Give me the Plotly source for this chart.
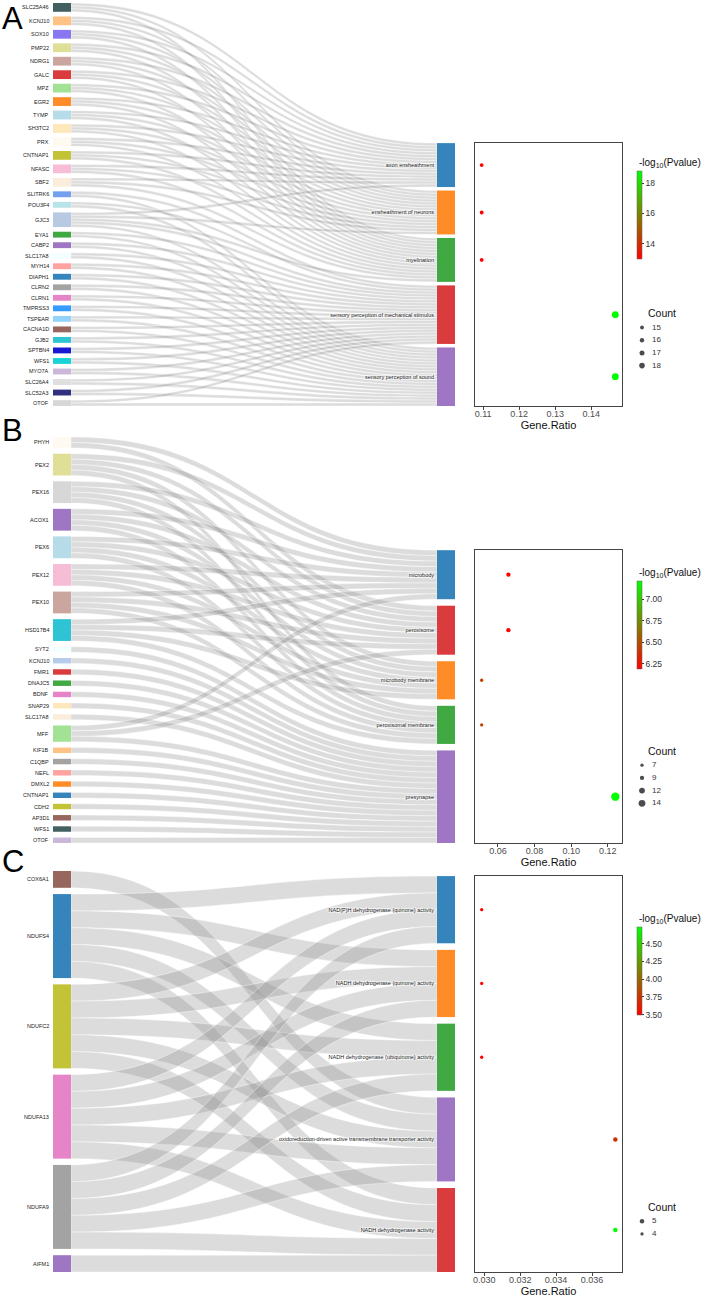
import plotly.graph_objects as go

# ---------------- data ----------------
A_genes = ["SLC25A46", "KCNJ10", "SOX10", "PMP22", "NDRG1", "GALC", "MPZ", "EGR2", "TYMP",
           "SH3TC2", "PRX", "CNTNAP1", "NFASC", "SBF2", "SLITRK6", "POU3F4", "GJC3", "EYA1",
           "CABP2", "SLC17A8", "MYH14", "DIAPH1", "CLRN2", "CLRN1", "TMPRSS3", "TSPEAR",
           "CACNA1D", "GJB2", "SPTBN4", "WFS1", "MYO7A", "SLC26A4", "SLC52A3", "OTOF"]
A_terms = ["axon ensheathment", "ensheathment of neurons", "myelination",
           "sensory perception of mechanical stimulus", "sensory perception of sound"]
A_myelin_genes = ["SLC25A46", "KCNJ10", "SOX10", "PMP22", "NDRG1", "GALC", "MPZ", "EGR2", "TYMP",
                  "SH3TC2", "PRX", "CNTNAP1", "NFASC", "SBF2", "GJC3"]
A_hearing_genes = ["SLITRK6", "POU3F4", "GJC3", "EYA1", "CABP2", "SLC17A8", "MYH14", "DIAPH1",
                   "CLRN2", "CLRN1", "TMPRSS3", "TSPEAR", "CACNA1D", "GJB2", "SPTBN4", "WFS1",
                   "MYO7A", "SLC26A4", "SLC52A3", "OTOF"]
A_term_genes = [A_myelin_genes, A_myelin_genes, A_myelin_genes, A_hearing_genes, A_hearing_genes]
A_gene_ratio = [0.1096, 0.1096, 0.1096, 0.1467, 0.1467]
A_count = [15, 15, 15, 20, 20]
A_log10p = [13.02, 13.00, 13.01, 18.79, 18.78]
A_count_breaks = [15, 16, 17, 18]

B_genes = ["PHYH", "PEX2", "PEX16", "ACOX1", "PEX6", "PEX12", "PEX10", "HSD17B4", "SYT2",
           "KCNJ10", "FMR1", "DNAJC5", "BDNF", "SNAP29", "SLC17A8", "MFF", "KIF1B", "C1QBP",
           "NEFL", "DMXL2", "CNTNAP1", "CDH2", "AP3D1", "WFS1", "OTOF"]
B_terms = ["microbody", "peroxisome", "microbody membrane", "peroxisomal membrane", "presynapse"]
B_membrane_genes = ["PEX2", "PEX16", "ACOX1", "PEX6", "PEX12", "PEX10", "HSD17B4"]
B_perox_genes = ["PHYH", "PEX2", "PEX16", "ACOX1", "PEX6", "PEX12", "PEX10", "HSD17B4", "MFF"]
B_presynapse_genes = ["SYT2", "KCNJ10", "FMR1", "DNAJC5", "BDNF", "SNAP29", "SLC17A8", "MFF",
                      "KIF1B", "C1QBP", "NEFL", "DMXL2", "CNTNAP1", "CDH2", "AP3D1", "WFS1", "OTOF"]
B_term_genes = [B_perox_genes, B_perox_genes, B_membrane_genes, B_membrane_genes, B_presynapse_genes]
B_gene_ratio = [0.0657, 0.0657, 0.0511, 0.0511, 0.1241]
B_count = [9, 9, 7, 7, 17]
B_log10p = [6.19, 6.20, 6.45, 6.46, 7.21]
B_count_breaks = [7, 9, 12, 14]

C_genes = ["COX6A1", "NDUFS4", "NDUFC2", "NDUFA13", "NDUFA9", "AIFM1"]
C_terms = ["NAD(P)H dehydrogenase (quinone) activity", "NADH dehydrogenase (quinone) activity",
           "NADH dehydrogenase (ubiquinone) activity",
           "oxidoreduction-driven active transmembrane transporter activity",
           "NADH dehydrogenase activity"]
C_complex_genes = ["NDUFS4", "NDUFC2", "NDUFA13", "NDUFA9"]
C_transporter_genes = ["COX6A1", "NDUFS4", "NDUFC2", "NDUFA13", "NDUFA9"]
C_nadh_genes = ["NDUFS4", "NDUFC2", "NDUFA13", "NDUFA9", "AIFM1"]
C_term_genes = [C_complex_genes, C_complex_genes, C_complex_genes, C_transporter_genes, C_nadh_genes]
C_gene_ratio = [0.02985, 0.02985, 0.02985, 0.0373, 0.0373]
C_count = [4, 4, 4, 5, 5]
C_log10p = [3.50, 3.50, 3.51, 3.74, 4.74]
C_count_breaks = [5, 4]

# ---------------- styles ----------------
A_gene_colors = ["#2f4f4f", "#ffbb78", "#7b68ee", "#dbdb8d", "#c49c94", "#d62728", "#98df8a",
                 "#ff7f0e", "#add8e6", "#ffe4b5", "#fffaf0", "#bcbd22", "#f7b6d2", "#faebd7",
                 "#6495ed", "#b0e0e6", "#b0c4de", "#2ca02c", "#9467bd", "#f0ffff", "#ff9896",
                 "#1f77b4", "#999999", "#e377c2", "#1e90ff", "#87cefa", "#8c564b", "#17becf",
                 "#0000cd", "#00ced1", "#c5b0d5", "#dcdcdc", "#191970", "#d3d3d3"]
A_term_colors = ["#1f77b4", "#ff7f0e", "#2ca02c", "#d62728", "#9467bd"]
B_gene_colors = ["#fffaf0", "#dbdb8d", "#d3d3d3", "#9467bd", "#add8e6", "#f7b6d2", "#c49c94",
                 "#17becf", "#f0ffff", "#aec7e8", "#d62728", "#2ca02c", "#e377c2", "#ffe4b5",
                 "#faebd7", "#98df8a", "#ffbb78", "#999999", "#ff9896", "#ff7f0e", "#1f77b4",
                 "#bcbd22", "#8c564b", "#2f4f4f", "#c5b0d5"]
B_term_colors = ["#1f77b4", "#d62728", "#ff7f0e", "#2ca02c", "#9467bd"]
C_gene_colors = ["#8c564b", "#1f77b4", "#bcbd22", "#e377c2", "#999999", "#9467bd"]
C_term_colors = ["#1f77b4", "#ff7f0e", "#2ca02c", "#9467bd", "#d62728"]

W, H = 703, 1299
FONT = "Liberation Sans, Arial, Helvetica, sans-serif"
SANKEY_X = (53, 455)
NODE_THICK = 18
DOT_X = (475, 622)


def px(x):
    return x / W


def py(y):
    return 1 - y / H


def rgba(hx, a=0.9):
    hx = hx.lstrip("#")
    r, g, b = int(hx[0:2], 16), int(hx[2:4], 16), int(hx[4:6], 16)
    return f"rgba({r},{g},{b},{a})"


panels = [
    dict(letter="A", genes=A_genes, terms=A_terms, term_genes=A_term_genes, ratio=A_gene_ratio,
         count=A_count, logp=A_log10p, breaks=A_count_breaks, gcol=A_gene_colors, tcol=A_term_colors,
         y0=3, y1=406, pad=4.67, rgap=3.5, letter_y=18, bar_top=171, count_y=313,
         size_ab=(-5.2, 0.6), xdtick=0.01, xfmt=".2f", cdtick=2, cfmt="d"),
    dict(letter="B", genes=B_genes, terms=B_terms, term_genes=B_term_genes, ratio=B_gene_ratio,
         count=B_count, logp=B_log10p, breaks=B_count_breaks, gcol=B_gene_colors, tcol=B_term_colors,
         y0=437, y1=843, pad=5.8, rgap=6.5, letter_y=430, bar_top=581, count_y=750.7,
         size_ab=(-0.2, 0.5), xdtick=0.02, xfmt=".2f", cdtick=0.25, cfmt=".2f"),
    dict(letter="C", genes=C_genes, terms=C_terms, term_genes=C_term_genes, ratio=C_gene_ratio,
         count=C_count, logp=C_log10p, breaks=C_count_breaks, gcol=C_gene_colors, tcol=C_term_colors,
         y0=871, y1=1272, pad=6.3, rgap=6.6, letter_y=861, bar_top=926.7, count_y=1206.7,
         size_ab=(-1.5, 1.2), xdtick=0.002, xfmt=".3f", cdtick=0.25, cfmt=".2f"),
]

fig = go.Figure()
annotations = []
layout = {}

# overlay axis (pixel space) for the Count legends
layout["xaxis4"] = dict(domain=[px(628), 1], range=[628, W], visible=False, fixedrange=True, anchor="y4")
layout["yaxis4"] = dict(domain=[0, 1], range=[H, 0], visible=False, fixedrange=True, anchor="x4")

for k, P in enumerate(panels):
    n = k + 1
    sfx = "" if n == 1 else str(n)
    genes, terms, tg = P["genes"], P["terms"], P["term_genes"]
    src, tgt = [], []
    for gi, g in enumerate(genes):
        for ti, members in enumerate(tg):
            if g in members:
                src.append(gi)
                tgt.append(len(genes) + ti)
    gvals = [src.count(i) for i in range(len(genes))]
    tvals = [len(m) for m in tg]
    total = sum(gvals)
    y0, y1, pad, rgap = P["y0"], P["y1"], P["pad"], P["rgap"]
    Hs = y1 - y0
    Ws = SANKEY_X[1] - SANKEY_X[0]
    ky = (Hs - (len(genes) - 1) * pad) / total
    left_c = []
    acc = y0
    for v in gvals:
        left_c.append(acc + v * ky / 2)
        acc += v * ky + pad
    rtop = y1 - (sum(tvals) * ky + (len(terms) - 1) * rgap)
    right_c = []
    acc = rtop
    for v in tvals:
        right_c.append(acc + v * ky / 2)
        acc += v * ky + rgap
    node_x = [NODE_THICK / 2 / Ws] * len(genes) + [1 - NODE_THICK / 2 / Ws] * len(terms)
    node_y = [(c - y0) / Hs for c in left_c + right_c]

    fig.add_trace(go.Sankey(
        domain=dict(x=[px(SANKEY_X[0]), px(SANKEY_X[1])], y=[py(y1), py(y0)]),
        arrangement="fixed",
        node=dict(label=[""] * len(genes) + terms,
                  color=[rgba(c) for c in P["gcol"] + P["tcol"]],
                  x=node_x, y=node_y, pad=pad, thickness=NODE_THICK,
                  line=dict(width=0)),
        link=dict(source=src, target=tgt, value=[1] * len(src),
                  color="rgba(150,150,150,0.33)", line=dict(color="white", width=0.4)),
        textfont=dict(size=5.5, color="#222", family=FONT),
        hoverinfo="none",
    ))

    for g, c in zip(genes, left_c):
        annotations.append(dict(x=px(SANKEY_X[0] - 2), y=py(c), xref="paper", yref="paper",
                                text=g, showarrow=False, xanchor="right", yanchor="middle",
                                font=dict(size=5.5, color="#222", family=FONT)))

    # dot plot
    a, b = P["size_ab"]
    xa, ya = "x" + sfx, "y" + sfx
    fig.add_trace(go.Scatter(
        x=P["ratio"], y=right_c, mode="markers",
        marker=dict(size=[a + b * c for c in P["count"]], color=P["logp"],
                    coloraxis="coloraxis" + sfx, line=dict(width=0), opacity=1),
        xaxis=xa, yaxis=ya, showlegend=False, hoverinfo="skip"))
    r = P["ratio"]
    span = max(r) - min(r)
    layout["xaxis" + sfx] = dict(
        domain=[px(DOT_X[0]), px(DOT_X[1])], anchor=ya,
        range=[min(r) - 0.05 * span, max(r) + 0.05 * span],
        dtick=P["xdtick"], tick0=0, tickformat=P["xfmt"],
        showline=True, mirror=True, linecolor="#444", linewidth=1,
        ticks="outside", ticklen=3, tickcolor="#444", tickwidth=1,
        ticklabelstandoff=-4,
        tickfont=dict(size=9, color="#4d4d4d", family=FONT),
        showgrid=False, zeroline=False,
        title=dict(text="Gene.Ratio", font=dict(size=11, color="#111", family=FONT), standoff=0))
    layout["yaxis" + sfx] = dict(
        domain=[py(y1), py(rtop)], anchor=xa, range=[y1, rtop],
        showticklabels=False, ticks="", showgrid=False, zeroline=False,
        showline=True, mirror=True, linecolor="#444", linewidth=1)

    lp = P["logp"]
    layout["coloraxis" + sfx] = dict(
        cmin=min(lp), cmax=max(lp), colorscale=[[0, "#ff0000"], [1, "#00ff00"]],
        colorbar=dict(x=px(637), xanchor="left", y=py(P["bar_top"]), yanchor="top",
                      len=88, lenmode="pixels", thickness=5, thicknessmode="pixels",
                      xpad=0, ypad=0, outlinewidth=0.5, outlinecolor="#666",
                      ticks="outside", ticklen=2, tickcolor="#333",
                      tickfont=dict(size=8.5, color="#333", family=FONT),
                      dtick=P["cdtick"], tick0=0, tickformat=P["cfmt"]))
    annotations.append(dict(x=px(637), y=py(P["bar_top"] - 8), xref="paper", yref="paper",
                            text="-log<sub>10</sub>(Pvalue)", showarrow=False,
                            xanchor="left", yanchor="middle",
                            font=dict(size=10, color="#111", family=FONT)))

    # Count legend
    annotations.append(dict(x=px(646), y=py(P["count_y"]), xref="paper", yref="paper",
                            text="Count", showarrow=False, xanchor="left", yanchor="middle",
                            font=dict(size=10.5, color="#111", family=FONT)))
    ly = [P["count_y"] + 14.5 + i * 12.7 for i in range(len(P["breaks"]))]
    fig.add_trace(go.Scatter(
        x=[642] * len(ly), y=ly, mode="markers",
        marker=dict(size=[a + b * c for c in P["breaks"]], color="black", line=dict(width=0)),
        xaxis="x4", yaxis="y4", showlegend=False, hoverinfo="skip"))
    fig.add_trace(go.Scatter(
        x=[652] * len(ly), y=ly, mode="text", text=[str(v) for v in P["breaks"]],
        textposition="middle right", textfont=dict(size=8, color="#333", family=FONT),
        xaxis="x4", yaxis="y4", showlegend=False, hoverinfo="skip"))

    annotations.append(dict(x=px(1), y=py(P["letter_y"]), xref="paper", yref="paper",
                            text=P["letter"], showarrow=False, xanchor="left", yanchor="middle",
                            borderpad=0, font=dict(size=31, color="black", family=FONT)))

fig.update_layout(
    width=W, height=H,
    margin=dict(l=0, r=0, t=0, b=0, autoexpand=False),
    paper_bgcolor="white", plot_bgcolor="white",
    showlegend=False, annotations=annotations,
    font=dict(family=FONT),
    **layout)

fig.write_html("out.html", config={"displayModeBar": False},
               post_script="document.body.style.margin='0px';document.body.style.overflow='hidden';")
